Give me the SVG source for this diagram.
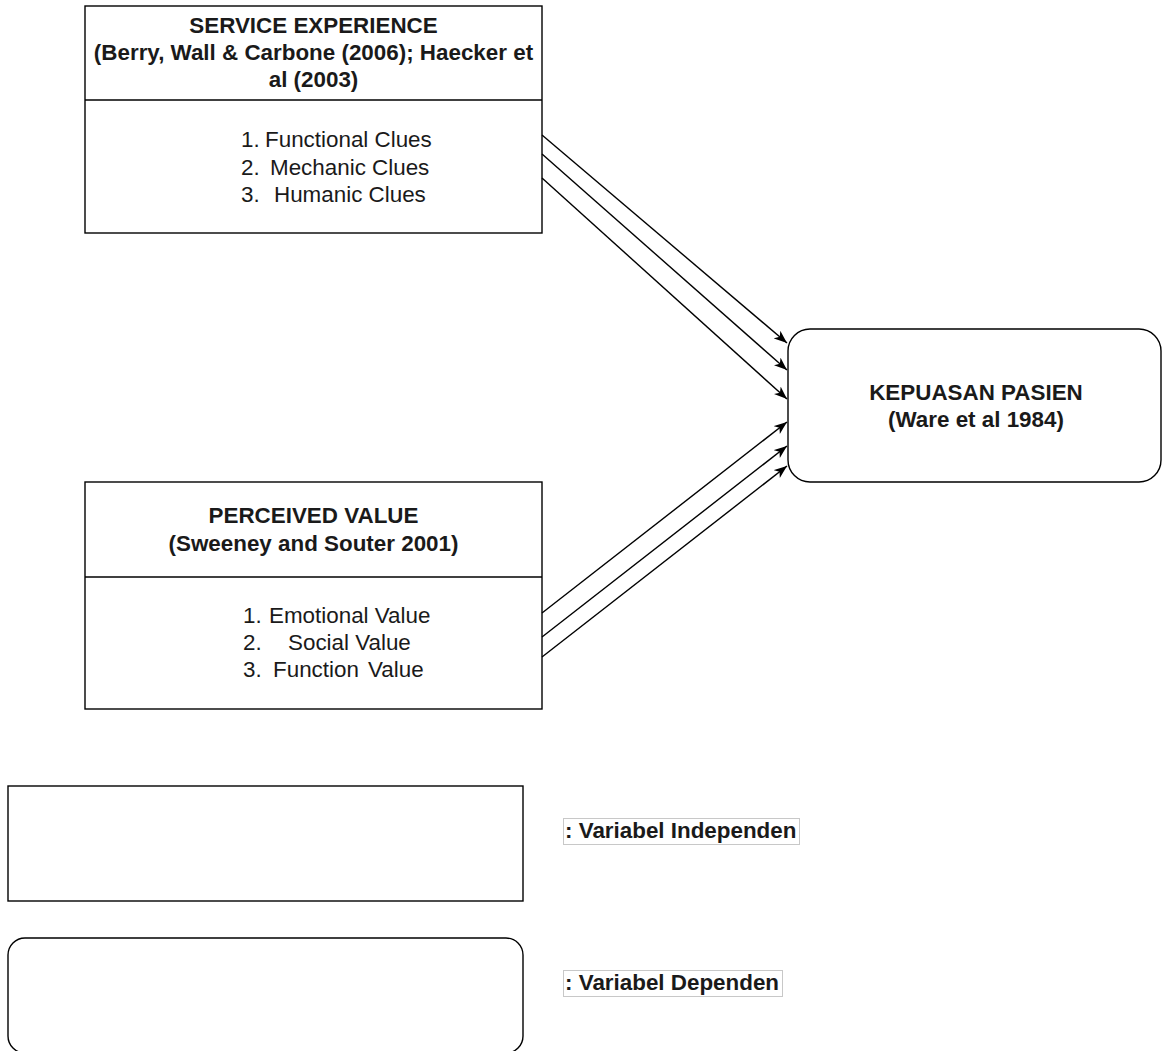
<svg xmlns="http://www.w3.org/2000/svg" width="1162" height="1051" viewBox="0 0 1162 1051">
<style>
  .box { fill: #ffffff; stroke: #000000; stroke-width: 1.4; }
  .t { font-family: "Liberation Sans", Arial, Helvetica, sans-serif; font-size: 22.4px; fill: #1a1a1a; }
  .b { font-weight: bold; }
  .c { text-anchor: middle; }
  .edge { fill: none; stroke: #000000; stroke-width: 1.4; marker-end: url(#arr); }
  .lbl { fill: #ffffff; stroke: #c8c8c8; stroke-width: 1; }
</style>
<defs>
  <marker id="arr" markerUnits="userSpaceOnUse" markerWidth="14" markerHeight="11" refX="13" refY="5" orient="auto">
    <path d="M0,0 L13,5 L0,10 L3.5,5 Z" fill="#000000"/>
  </marker>
</defs>
<rect width="1162" height="1051" fill="#ffffff"/>

<g id="service-experience">
  <rect class="box" x="85" y="6" width="457" height="227"/>
  <line x1="85" y1="100" x2="542" y2="100" stroke="#000" stroke-width="1.4"/>
  <text class="t b c" x="313.5" y="33">SERVICE EXPERIENCE</text>
  <text class="t b c" x="313.5" y="60">(Berry, Wall &amp; Carbone (2006); Haecker et</text>
  <text class="t b c" x="313.5" y="87">al (2003)</text>
  <text class="t" x="241" y="147">1.<tspan x="265">Functional Clues</tspan></text>
  <text class="t" x="241" y="175">2.<tspan x="270">Mechanic Clues</tspan></text>
  <text class="t" x="241" y="202">3.<tspan x="274">Humanic Clues</tspan></text>
</g>

<g id="perceived-value">
  <rect class="box" x="85" y="482" width="457" height="227"/>
  <line x1="85" y1="577" x2="542" y2="577" stroke="#000" stroke-width="1.4"/>
  <text class="t b c" x="313.5" y="523">PERCEIVED VALUE</text>
  <text class="t b c" x="313.5" y="551">(Sweeney and Souter 2001)</text>
  <text class="t" x="243" y="623">1.<tspan x="269">Emotional Value</tspan></text>
  <text class="t" x="243" y="650">2.<tspan x="288">Social Value</tspan></text>
  <text class="t" x="243" y="677">3.<tspan x="273">Function</tspan><tspan x="368">Value</tspan></text>
</g>

<g id="kepuasan-pasien">
  <rect class="box" x="788" y="329" width="373" height="153" rx="22" ry="22"/>
  <text class="t b c" x="976" y="400">KEPUASAN PASIEN</text>
  <text class="t b c" x="976" y="427">(Ware et al 1984)</text>
</g>

<g id="connectors">
  <line class="edge" x1="542" y1="135" x2="787" y2="343"/>
  <line class="edge" x1="542" y1="154" x2="787" y2="370"/>
  <line class="edge" x1="542" y1="178" x2="787" y2="399"/>
  <line class="edge" x1="542" y1="613" x2="787" y2="422"/>
  <line class="edge" x1="542" y1="637" x2="787" y2="446"/>
  <line class="edge" x1="542" y1="657" x2="787" y2="466"/>
</g>

<g id="legend-independen">
  <rect class="box" x="8" y="786" width="515" height="115"/>
  <rect class="lbl" x="563.5" y="818.5" width="236" height="26"/>
  <text class="t b" x="565" y="838">: Variabel Independen</text>
</g>

<g id="legend-dependen">
  <rect class="box" x="8" y="938" width="515" height="115" rx="17" ry="17"/>
  <rect class="lbl" x="563.5" y="970.5" width="219" height="26"/>
  <text class="t b" x="565" y="990">: Variabel Dependen</text>
</g>
</svg>
